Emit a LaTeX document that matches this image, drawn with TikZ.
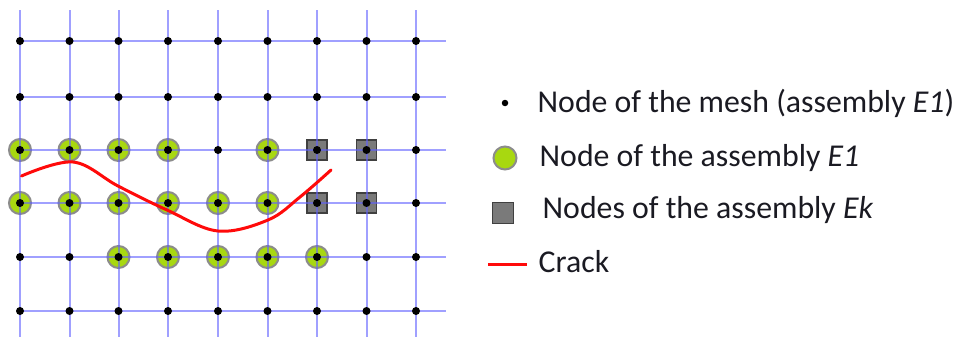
\documentclass[tikz,border=0pt]{standalone}
\usepackage{fontspec}
\setmainfont{Carlito}
\definecolor{gridblue}{HTML}{6060FF}
\definecolor{nodegreen}{HTML}{A8D810}
\definecolor{ringgray}{HTML}{8C8C8C}
\definecolor{boxgray}{HTML}{7A7A7A}
\definecolor{crackred}{HTML}{FF0A0A}
\definecolor{textdark}{HTML}{1A1A22}
\begin{document}
\begin{tikzpicture}[x=1pt,y=-1pt,
  asm/.style={circle,draw=ringgray,line width=2pt,fill=nodegreen,minimum size=22pt,inner sep=0pt},
  ek/.style={rectangle,draw=black!75,line width=1.6pt,fill=boxgray,minimum size=20pt,inner sep=0pt},
  meshdot/.style={circle,fill=black,minimum size=8pt,inner sep=0pt},
  gridline/.style={draw=gridblue,line width=2pt,draw opacity=0.6},
  crack/.style={draw=crackred,line width=3pt,line cap=round},
  legtext/.style={anchor=base west,font=\fontsize{31.8}{34}\selectfont,text=textdark,inner sep=0pt}]
\useasboundingbox (0,0) rectangle (961,340);
% lattice points
\foreach \x [count=\i] in {20,69.5,118.5,168,218,267.5,317,366.5,416}{
  \foreach \y [count=\j] in {41,97,150,203,257,311}{
    \coordinate (p\i-\j) at (\x,\y);
  }
}
% assembly E1 nodes
\foreach \i/\j in {1/3,2/3,3/3,4/3,6/3,1/4,2/4,3/4,4/4,5/4,6/4,3/5,4/5,5/5,6/5,7/5}{
  \node[asm] (c\i-\j) at (p\i-\j) {};
}
% assembly Ek nodes
\foreach \i/\j in {7/3,8/3,7/4,8/4}{
  \node[ek] (s\i-\j) at (p\i-\j) {};
}
% grid lines
\foreach \x in {20,69.5,118.5,168,218,267.5,317,366.5,416}{
  \draw[gridline] (\x,10) -- (\x,337);
}
\foreach \y in {41,97,150,203,257,311}{
  \draw[gridline] (18,\y) -- (446,\y);
}
% mesh nodes
\foreach \i in {1,...,9}{
  \foreach \j in {1,...,6}{
    \node[meshdot] (d\i-\j) at (p\i-\j) {};
  }
}
% crack
\draw[crack] plot[smooth,tension=0.6] coordinates {(21.5,176) (73,162) (118,186) (167,210) (218,231) (268,220) (300,197) (331,170)};
% legend
\node[meshdot,minimum size=6.5pt] (ldot) at (505,103) {};
\node[legtext] (l1) at (537.5,112) {Node of the mesh (assembly \textit{E1})};
\node[asm,minimum size=23pt] (lcirc) at (505,158) {};
\node[legtext] (l2) at (539.5,166.5) {Node of the assembly \textit{E1}};
\node[ek,minimum size=21pt] (lsq) at (503,213) {};
\node[legtext] (l3) at (542.5,218.5) {Nodes of the assembly \textit{Ek}};
\coordinate (lc1) at (488,264);
\coordinate (lc2) at (527,264);
\draw[crack,line cap=butt] (lc1) -- (lc2);
\node[legtext] (l4) at (538.5,272.5) {Crack};
\end{tikzpicture}
\end{document}
